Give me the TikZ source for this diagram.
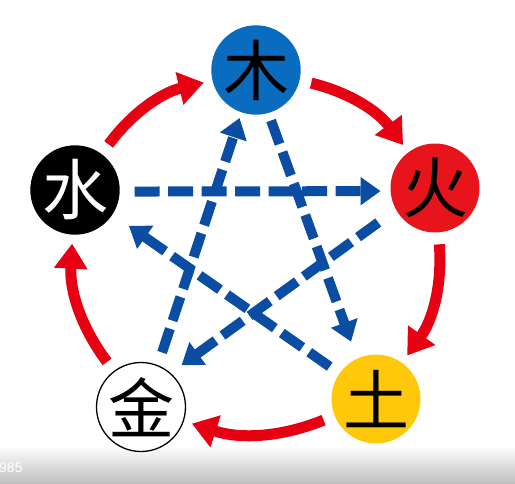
\documentclass[tikz,border=0pt]{standalone}
\usepackage{fontspec}
\newfontfamily\cjk{Noto Sans CJK SC}
\newfontfamily\latin{Liberation Sans}
\usepackage{tikz}
\usetikzlibrary{arrows.meta, positioning}
\definecolor{woodblue}{HTML}{0A6CBF}
\definecolor{firered}{HTML}{E8141C}
\definecolor{earthyellow}{HTML}{FFC80A}
\definecolor{arrowred}{HTML}{E60012}
\definecolor{dashblue}{HTML}{0B4DA2}

\begin{document}
\begin{tikzpicture}[
          x=1pt, y=-1pt,
          element/.style={circle, minimum size=89pt, inner sep=0pt, outer sep=0pt,
                          font=\cjk\fontsize{66}{66}\selectfont},
          sheng/.style={-{Triangle[width=32pt,length=25pt]}, draw=arrowred,
                        line width=11pt, shorten <=12pt, shorten >=9pt},
          ke/.style={-{Triangle[width=27pt,length=20pt]}, draw=dashblue,
                     line width=10pt, dash pattern=on 25pt off 8.5pt}
        ]
        \useasboundingbox (0,0) rectangle (515,483);
        % bottom band
        \shade[top color=white, bottom color=gray!50] (0,446) rectangle (515,483);
        \node [anchor=west, inner sep=0pt, text=white, font=\latin\fontsize{14}{14}\selectfont] (mark) at (-1,468) {985};

        % the five elements
        \node [element, fill=woodblue] (mu) at (256,70) {木};
        \node [element, fill=firered] (huo) at (435,188) {火};
        \node [element, fill=earthyellow] (tu) at (376,399) {土};
        \node [element, fill=white, draw=black, line width=1.3pt] (jin) at (141,407) {金};
        \node [element, fill=black, text=white] (shui) at (75,190) {水};

        % generating cycle
        \draw [sheng] (shui) to [bend left=20] (mu);
        \draw [sheng] (mu) to [bend left=20] (huo);
        \draw [sheng] (huo) to [bend left=20] (tu);
        \draw [sheng] (tu) to [bend left=20] (jin);
        \draw [sheng] (jin) to [bend left=20] (shui);

        % controlling star
        \draw [ke, shorten <=15pt, shorten >=10pt] (shui.-2) -- (huo.184);
        \draw [ke, shorten <=22pt, shorten >=14pt] (huo.209) -- (jin.49);
        \draw [ke, shorten <=12pt, shorten >=20pt] (tu.145) -- (shui.327);
        \draw [ke, shorten <=8pt, shorten >=18pt] (mu.286) -- (tu.115);
        \draw [ke, shorten <=14pt, shorten >=6pt] (jin.68) -- (mu.251);
        \end{tikzpicture}
\end{document}
